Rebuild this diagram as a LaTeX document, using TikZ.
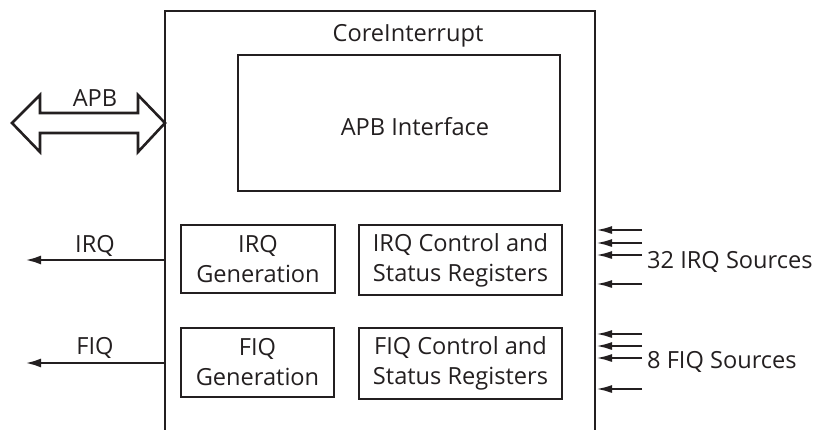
\documentclass[tikz,border=0pt]{standalone}
\usepackage{fontspec}
\setmainfont{Open Sans}
\usetikzlibrary{arrows.meta}
\definecolor{ink}{HTML}{231F20}
\begin{document}
\begin{tikzpicture}[x=1pt,y=-1pt,
  txt/.style={font=\fontsize{23.6}{30}\selectfont, text=ink},
  box/.style={draw=ink, line width=2.7pt, inner sep=0pt, align=center, txt},
  lbl/.style={txt, inner sep=0pt},
  sig/.style={draw=ink, line width=2.7pt, -{Latex[length=16pt,width=9pt]}},
  src/.style={draw=ink, line width=2.3pt, -{Latex[length=16pt,width=8pt]}},
]
\useasboundingbox (0,0) rectangle (815,429);
% outer block (open at the bottom)
\coordinate (coreBL) at (165,434);
\coordinate (coreTL) at (165,11);
\coordinate (coreTR) at (595,11);
\coordinate (coreBR) at (595,434);
\draw[line width=2.8pt, ink] (coreBL) -- (coreTL) -- (coreTR) -- (coreBR);
\node[lbl] (title) at (408,36) {CoreInterrupt};
% APB interface
\node[box, minimum width=322pt, minimum height=136pt] (apbif) at (399,123) {};
\node[lbl] (apbiftxt) at (415,127) {APB Interface};
% blocks
\node[box, minimum width=154pt, minimum height=68pt] (irqgen) at (258,259) {IRQ\\Generation};
\node[box, minimum width=203pt, minimum height=70pt] (irqctl) at (460.5,260) {IRQ Control and\\Status Registers};
\node[box, minimum width=153pt, minimum height=69pt] (fiqgen) at (257.5,362.5) {FIQ\\Generation};
\node[box, minimum width=203pt, minimum height=71pt] (fiqctl) at (460.5,363.5) {FIQ Control and\\Status Registers};
% APB bus arrow
\coordinate (apbL) at (12,123);
\coordinate (apbR) at (165,123);
\draw[line width=2.6pt, ink, line join=miter] (apbL) -- (40,95) -- (40,113) -- (138,113) -- (138,95) -- (apbR)
  -- (138,152) -- (138,133) -- (40,133) -- (40,152) -- cycle;
\node[lbl] (apblbl) at (95,98) {APB};
% IRQ / FIQ outputs
\coordinate (irqin) at (165,260);
\coordinate (irqout) at (25,260);
\draw[sig] (irqin) -- (irqout);
\node[lbl] (irqlbl) at (95,246) {IRQ};
\coordinate (fiqin) at (165,363);
\coordinate (fiqout) at (25,363);
\draw[sig] (fiqin) -- (fiqout);
\node[lbl] (fiqlbl) at (95,348) {FIQ};
% IRQ sources
\foreach \i/\y in {1/230,2/243,3/255,4/284}{
  \coordinate (is\i) at (642,\y);
  \coordinate (it\i) at (596,\y);
  \draw[src] (is\i) -- (it\i);
}
\node[lbl, anchor=west] (irqsrc) at (647,262) {32 IRQ Sources};
% FIQ sources
\foreach \i/\y in {1/334,2/346,3/358,4/389}{
  \coordinate (fs\i) at (642,\y);
  \coordinate (ft\i) at (596,\y);
  \draw[src] (fs\i) -- (ft\i);
}
\node[lbl, anchor=west] (fiqsrc) at (647,362) {8 FIQ Sources};
\end{tikzpicture}
\end{document}
